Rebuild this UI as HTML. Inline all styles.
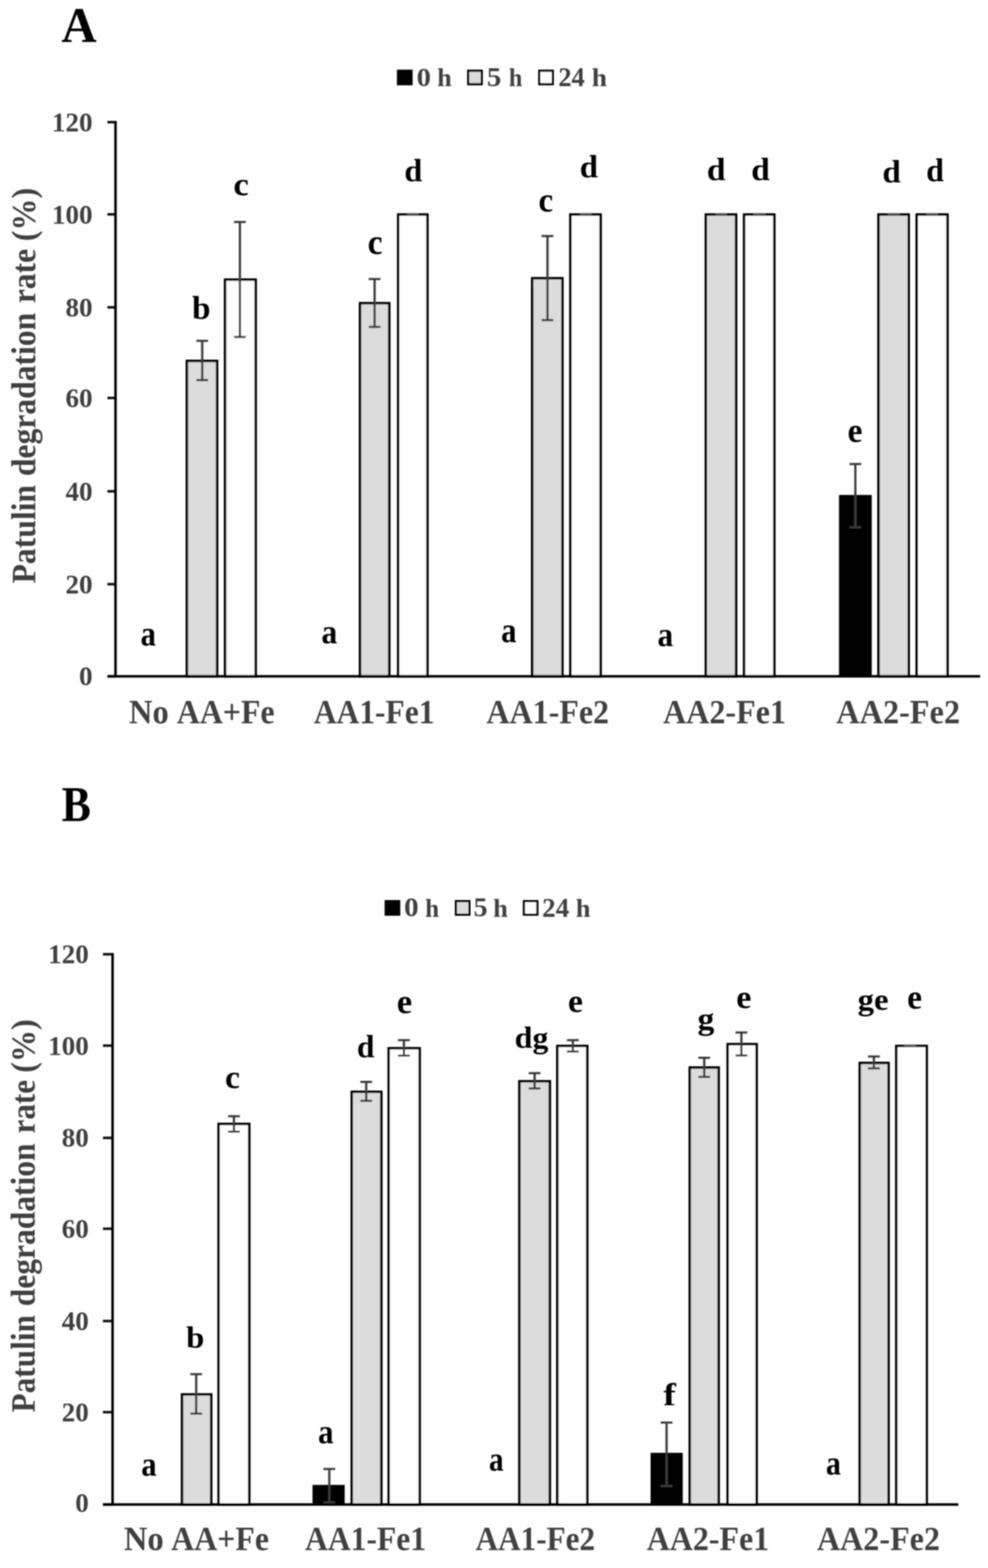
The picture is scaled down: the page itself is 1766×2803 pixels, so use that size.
<!DOCTYPE html>
<html><head><meta charset="utf-8"><title>Patulin degradation rate</title>
<style>
html,body{margin:0;padding:0;background:#fff;}
svg{display:block;}
text{font-family:'Liberation Serif', 'Times New Roman', serif;font-weight:bold;}
</style></head>
<body>
<svg width="1766" height="2803" viewBox="0 0 1766 2803">
<defs><filter id="soft" x="0" y="0" width="1766" height="2803" filterUnits="userSpaceOnUse"><feGaussianBlur stdDeviation="0.8"/></filter></defs>
<rect width="1766" height="2803" fill="#fff"/>
<g filter="url(#soft)">
<text transform="translate(109.75,74.10) scale(1.0001,1.0076)" font-size="87.5" fill="#000">A</text>
<rect x="709.5" y="124.5" width="28" height="28" fill="#000"/>
<rect x="837.0" y="126.5" width="24" height="24" fill="#dcdcdc" stroke="#000" stroke-width="4"/>
<rect x="964.0" y="126.5" width="24" height="24" fill="#fff" stroke="#000" stroke-width="4"/>
<text transform="translate(744.76,153.84) scale(1.0729,0.9983)" font-size="47.5" fill="#404040">0</text>
<text transform="translate(781.54,154.30) scale(0.9790,0.9709)" font-size="47.5" fill="#404040">h</text>
<text transform="translate(870.13,153.83) scale(1.0891,1.0137)" font-size="47.5" fill="#404040">5</text>
<text transform="translate(909.42,154.30) scale(0.9137,0.9709)" font-size="47.5" fill="#404040">h</text>
<text transform="translate(997.91,154.30) scale(0.9972,1.0175)" font-size="47.5" fill="#404040">24</text>
<text transform="translate(1057.78,154.30) scale(1.0320,0.9709)" font-size="47.5" fill="#404040">h</text>
<line x1="192" y1="1209.0" x2="206.5" y2="1209.0" stroke="#111" stroke-width="4.5"/>
<text x="165.5" y="1225.3" font-size="48.5" fill="#404040" text-anchor="end" >0</text>
<line x1="192" y1="1044.3" x2="206.5" y2="1044.3" stroke="#111" stroke-width="4.5"/>
<text x="165.5" y="1060.6" font-size="48.5" fill="#404040" text-anchor="end" >20</text>
<line x1="192" y1="878.3" x2="206.5" y2="878.3" stroke="#111" stroke-width="4.5"/>
<text x="165.5" y="894.6" font-size="48.5" fill="#404040" text-anchor="end" >40</text>
<line x1="192" y1="711.4" x2="206.5" y2="711.4" stroke="#111" stroke-width="4.5"/>
<text x="165.5" y="727.7" font-size="48.5" fill="#404040" text-anchor="end" >60</text>
<line x1="192" y1="549.4" x2="206.5" y2="549.4" stroke="#111" stroke-width="4.5"/>
<text x="165.5" y="565.7" font-size="48.5" fill="#404040" text-anchor="end" >80</text>
<line x1="192" y1="383.2" x2="206.5" y2="383.2" stroke="#111" stroke-width="4.5"/>
<text x="165.5" y="399.5" font-size="48.5" fill="#404040" text-anchor="end" >100</text>
<line x1="192" y1="218.4" x2="206.5" y2="218.4" stroke="#111" stroke-width="4.5"/>
<text x="165.5" y="234.7" font-size="48.5" fill="#404040" text-anchor="end" >120</text>
<text transform="translate(63.30,1042.97) rotate(-90) scale(0.9758,1.0500)" font-size="58" fill="#404040">Patulin</text>
<text transform="translate(63.30,851.09) rotate(-90) scale(0.9742,1.0500)" font-size="58" fill="#404040">degradation</text>
<text transform="translate(63.30,542.12) rotate(-90) scale(0.9758,1.0500)" font-size="58" fill="#404040">rate</text>
<text transform="translate(63.30,431.32) rotate(-90) scale(0.9898,1.0500)" font-size="58" fill="#404040">(%)</text>
<rect x="334.05" y="645.18" width="54.00" height="563.82" fill="#dcdcdc" stroke="#000" stroke-width="4.5"/>
<rect x="402.30" y="499.90" width="54.70" height="709.10" fill="#fff" stroke="#000" stroke-width="4.5"/>
<line x1="361.5" y1="609.3" x2="361.5" y2="679.5" stroke="#3a3a3a" stroke-width="4"/>
<line x1="351.0" y1="609.3" x2="372.0" y2="609.3" stroke="#3a3a3a" stroke-width="3.8"/>
<line x1="351.0" y1="679.5" x2="372.0" y2="679.5" stroke="#3a3a3a" stroke-width="3.8"/>
<line x1="428.8" y1="396.8" x2="428.8" y2="602.4" stroke="#3a3a3a" stroke-width="4"/>
<line x1="418.3" y1="396.8" x2="439.3" y2="396.8" stroke="#3a3a3a" stroke-width="3.8"/>
<line x1="418.3" y1="602.4" x2="439.3" y2="602.4" stroke="#3a3a3a" stroke-width="3.8"/>
<text transform="translate(251.13,1154.48) scale(0.9651,1.1134)" font-size="57" fill="#000">a</text>
<text transform="translate(343.15,570.33) scale(1.0430,1.0198)" font-size="57" fill="#000">b</text>
<text transform="translate(417.19,348.84) scale(1.0852,1.0516)" font-size="57" fill="#000">c</text>
<text transform="translate(230.49,1293.30) scale(1.0210,1.0718)" font-size="57" fill="#404040">No</text>
<text transform="translate(316.04,1293.34) scale(0.9989,1.0640)" font-size="57" fill="#404040">AA+Fe</text>
<rect x="643.50" y="542.00" width="52.30" height="667.00" fill="#dcdcdc" stroke="#000" stroke-width="4.5"/>
<rect x="711.80" y="383.50" width="52.20" height="825.50" fill="#fff" stroke="#000" stroke-width="4.5"/>
<line x1="669.6" y1="498.8" x2="669.6" y2="584.4" stroke="#3a3a3a" stroke-width="4"/>
<line x1="659.1" y1="498.8" x2="680.1" y2="498.8" stroke="#3a3a3a" stroke-width="3.8"/>
<line x1="659.1" y1="584.4" x2="680.1" y2="584.4" stroke="#3a3a3a" stroke-width="3.8"/>
<line x1="727.2" y1="383.5" x2="748.2" y2="383.5" stroke="#555" stroke-width="4.5"/>
<text transform="translate(574.57,1149.80) scale(0.9961,1.0841)" font-size="57" fill="#000">a</text>
<text transform="translate(657.16,453.72) scale(1.0487,1.0991)" font-size="57" fill="#000">c</text>
<text transform="translate(722.76,324.04) scale(1.0122,1.0023)" font-size="57" fill="#000">d</text>
<text transform="translate(560.95,1293.34) scale(0.9873,1.0640)" font-size="57" fill="#404040">AA1-Fe1</text>
<rect x="951.25" y="497.42" width="54.00" height="711.58" fill="#dcdcdc" stroke="#000" stroke-width="4.5"/>
<rect x="1019.55" y="383.50" width="54.00" height="825.50" fill="#fff" stroke="#000" stroke-width="4.5"/>
<line x1="978.6" y1="422.0" x2="978.6" y2="572.3" stroke="#3a3a3a" stroke-width="4"/>
<line x1="968.1" y1="422.0" x2="989.1" y2="422.0" stroke="#3a3a3a" stroke-width="3.8"/>
<line x1="968.1" y1="572.3" x2="989.1" y2="572.3" stroke="#3a3a3a" stroke-width="3.8"/>
<line x1="1036.5" y1="383.5" x2="1057.5" y2="383.5" stroke="#555" stroke-width="4.5"/>
<text transform="translate(895.83,1147.69) scale(0.9651,1.1024)" font-size="57" fill="#000">a</text>
<text transform="translate(962.38,377.83) scale(1.0350,1.0808)" font-size="57" fill="#000">c</text>
<text transform="translate(1036.22,316.54) scale(1.0295,0.9999)" font-size="57" fill="#000">d</text>
<text transform="translate(869.44,1293.34) scale(1.0036,1.0609)" font-size="57" fill="#404040">AA1-Fe2</text>
<rect x="1261.75" y="383.50" width="54.00" height="825.50" fill="#dcdcdc" stroke="#000" stroke-width="4.5"/>
<rect x="1330.05" y="383.50" width="54.00" height="825.50" fill="#fff" stroke="#000" stroke-width="4.5"/>
<line x1="1278.5" y1="383.5" x2="1299.5" y2="383.5" stroke="#555" stroke-width="4.5"/>
<line x1="1347.0" y1="383.5" x2="1368.0" y2="383.5" stroke="#555" stroke-width="4.5"/>
<text transform="translate(1175.29,1154.50) scale(0.9845,1.0841)" font-size="57" fill="#000">a</text>
<text transform="translate(1263.57,321.84) scale(1.0539,1.0023)" font-size="57" fill="#000">d</text>
<text transform="translate(1342.67,321.84) scale(1.0504,1.0023)" font-size="57" fill="#000">d</text>
<text transform="translate(1185.14,1293.34) scale(1.0060,1.0609)" font-size="57" fill="#404040">AA2-Fe1</text>
<rect x="1499.70" y="884.80" width="58.50" height="324.20" fill="#000"/>
<rect x="1570.25" y="383.50" width="54.00" height="825.50" fill="#dcdcdc" stroke="#000" stroke-width="4.5"/>
<rect x="1638.60" y="383.50" width="55.00" height="825.50" fill="#fff" stroke="#000" stroke-width="4.5"/>
<line x1="1528.9" y1="829.5" x2="1528.9" y2="942.7" stroke="#3a3a3a" stroke-width="4"/>
<line x1="1518.4" y1="829.5" x2="1539.4" y2="829.5" stroke="#3a3a3a" stroke-width="3.8"/>
<line x1="1518.4" y1="942.7" x2="1539.4" y2="942.7" stroke="#3a3a3a" stroke-width="3.8"/>
<line x1="1587.0" y1="383.5" x2="1608.0" y2="383.5" stroke="#555" stroke-width="4.5"/>
<line x1="1655.5" y1="383.5" x2="1676.5" y2="383.5" stroke="#555" stroke-width="4.5"/>
<text transform="translate(1515.05,789.92) scale(1.0514,1.0903)" font-size="57" fill="#000">e</text>
<text transform="translate(1577.21,325.93) scale(1.0365,1.0173)" font-size="57" fill="#000">d</text>
<text transform="translate(1655.59,324.43) scale(1.0017,1.0273)" font-size="57" fill="#000">d</text>
<text transform="translate(1494.74,1293.34) scale(1.0134,1.0609)" font-size="57" fill="#404040">AA2-Fe2</text>
<line x1="206.5" y1="216.2" x2="206.5" y2="1209.0" stroke="#000" stroke-width="4.5"/>
<line x1="192" y1="1209.0" x2="1752" y2="1209.0" stroke="#000" stroke-width="4.5"/>
<text transform="translate(110.30,1466.84) scale(0.8940,1.0113)" font-size="87.5" fill="#000">B</text>
<rect x="687.5" y="1609.0" width="28" height="28" fill="#000"/>
<rect x="815.0" y="1611.0" width="24" height="24" fill="#dcdcdc" stroke="#000" stroke-width="4"/>
<rect x="936.5" y="1611.0" width="24" height="24" fill="#fff" stroke="#000" stroke-width="4"/>
<text transform="translate(722.21,1638.03) scale(1.0978,1.0139)" font-size="47.5" fill="#404040">0</text>
<text transform="translate(760.09,1638.50) scale(0.9423,0.9861)" font-size="47.5" fill="#404040">h</text>
<text transform="translate(846.50,1638.02) scale(1.0493,1.0296)" font-size="47.5" fill="#404040">5</text>
<text transform="translate(881.52,1638.50) scale(0.9953,0.9861)" font-size="47.5" fill="#404040">h</text>
<text transform="translate(969.07,1638.50) scale(1.0174,1.0334)" font-size="47.5" fill="#404040">24</text>
<text transform="translate(1029.23,1638.50) scale(0.9912,0.9861)" font-size="47.5" fill="#404040">h</text>
<line x1="184.0" y1="2689.5" x2="201.2" y2="2689.5" stroke="#111" stroke-width="4.5"/>
<text x="158.8" y="2703.3" font-size="48.5" fill="#404040" text-anchor="end" >0</text>
<line x1="184.0" y1="2524.4" x2="201.2" y2="2524.4" stroke="#111" stroke-width="4.5"/>
<text x="158.8" y="2540.7" font-size="48.5" fill="#404040" text-anchor="end" >20</text>
<line x1="184.0" y1="2361.5" x2="201.2" y2="2361.5" stroke="#111" stroke-width="4.5"/>
<text x="158.8" y="2377.8" font-size="48.5" fill="#404040" text-anchor="end" >40</text>
<line x1="184.0" y1="2196.5" x2="201.2" y2="2196.5" stroke="#111" stroke-width="4.5"/>
<text x="158.8" y="2212.8" font-size="48.5" fill="#404040" text-anchor="end" >60</text>
<line x1="184.0" y1="2034.1" x2="201.2" y2="2034.1" stroke="#111" stroke-width="4.5"/>
<text x="158.8" y="2050.4" font-size="48.5" fill="#404040" text-anchor="end" >80</text>
<line x1="184.0" y1="1869.2" x2="201.2" y2="1869.2" stroke="#111" stroke-width="4.5"/>
<text x="158.8" y="1885.5" font-size="48.5" fill="#404040" text-anchor="end" >100</text>
<line x1="184.0" y1="1705.9" x2="201.2" y2="1705.9" stroke="#111" stroke-width="4.5"/>
<text x="158.8" y="1722.2" font-size="48.5" fill="#404040" text-anchor="end" >120</text>
<text transform="translate(62.40,2525.06) rotate(-90) scale(0.9652,1.0500)" font-size="58" fill="#404040">Patulin</text>
<text transform="translate(62.40,2334.98) rotate(-90) scale(0.9711,1.0500)" font-size="58" fill="#404040">degradation</text>
<text transform="translate(62.40,2026.30) rotate(-90) scale(0.9603,1.0500)" font-size="58" fill="#404040">rate</text>
<text transform="translate(62.40,1917.83) rotate(-90) scale(0.9920,1.0500)" font-size="58" fill="#404040">(%)</text>
<rect x="325.40" y="2492.78" width="52.10" height="196.72" fill="#dcdcdc" stroke="#000" stroke-width="4.5"/>
<rect x="390.80" y="2009.18" width="54.70" height="680.32" fill="#fff" stroke="#000" stroke-width="4.5"/>
<line x1="350.7" y1="2456.5" x2="350.7" y2="2527.0" stroke="#3a3a3a" stroke-width="4"/>
<line x1="340.2" y1="2456.5" x2="361.2" y2="2456.5" stroke="#3a3a3a" stroke-width="3.8"/>
<line x1="340.2" y1="2527.0" x2="361.2" y2="2527.0" stroke="#3a3a3a" stroke-width="3.8"/>
<line x1="418.2" y1="1995.4" x2="418.2" y2="2023.0" stroke="#3a3a3a" stroke-width="4"/>
<line x1="407.7" y1="1995.4" x2="428.7" y2="1995.4" stroke="#3a3a3a" stroke-width="3.8"/>
<line x1="407.7" y1="2023.0" x2="428.7" y2="2023.0" stroke="#3a3a3a" stroke-width="3.8"/>
<text transform="translate(252.43,2637.80) scale(0.9651,1.0768)" font-size="57" fill="#000">a</text>
<text transform="translate(332.86,2408.57) scale(1.0256,0.9500)" font-size="57" fill="#000">b</text>
<text transform="translate(402.25,1945.46) scale(1.0533,1.0297)" font-size="57" fill="#000">c</text>
<text transform="translate(221.49,2771.40) scale(1.0210,1.0718)" font-size="57" fill="#404040">No</text>
<text transform="translate(306.04,2771.44) scale(0.9983,1.0640)" font-size="57" fill="#404040">AA+Fe</text>
<rect x="558.60" y="2654.46" width="57.50" height="35.04" fill="#000"/>
<rect x="628.80" y="1951.80" width="52.80" height="737.70" fill="#dcdcdc" stroke="#000" stroke-width="4.5"/>
<rect x="694.80" y="1873.93" width="55.30" height="815.57" fill="#fff" stroke="#000" stroke-width="4.5"/>
<line x1="588.6" y1="2626.0" x2="588.6" y2="2686.0" stroke="#3a3a3a" stroke-width="4"/>
<line x1="578.1" y1="2626.0" x2="599.1" y2="2626.0" stroke="#3a3a3a" stroke-width="3.8"/>
<line x1="578.1" y1="2686.0" x2="599.1" y2="2686.0" stroke="#3a3a3a" stroke-width="3.8"/>
<line x1="654.6" y1="1934.1" x2="654.6" y2="1967.8" stroke="#3a3a3a" stroke-width="4"/>
<line x1="644.1" y1="1934.1" x2="665.1" y2="1934.1" stroke="#3a3a3a" stroke-width="3.8"/>
<line x1="644.1" y1="1967.8" x2="665.1" y2="1967.8" stroke="#3a3a3a" stroke-width="3.8"/>
<line x1="722.0" y1="1859.4" x2="722.0" y2="1887.1" stroke="#3a3a3a" stroke-width="4"/>
<line x1="711.5" y1="1859.4" x2="732.5" y2="1859.4" stroke="#3a3a3a" stroke-width="3.8"/>
<line x1="711.5" y1="1887.1" x2="732.5" y2="1887.1" stroke="#3a3a3a" stroke-width="3.8"/>
<text transform="translate(568.61,2580.10) scale(0.9729,1.0768)" font-size="57" fill="#000">a</text>
<text transform="translate(637.92,1889.54) scale(0.9878,1.0023)" font-size="57" fill="#000">d</text>
<text transform="translate(709.29,1810.53) scale(1.0834,1.0794)" font-size="57" fill="#000">e</text>
<text transform="translate(545.25,2771.44) scale(0.9911,1.0640)" font-size="57" fill="#404040">AA1-Fe1</text>
<rect x="928.40" y="1932.95" width="54.40" height="756.55" fill="#dcdcdc" stroke="#000" stroke-width="4.5"/>
<rect x="996.20" y="1869.83" width="53.50" height="819.67" fill="#fff" stroke="#000" stroke-width="4.5"/>
<line x1="955.6" y1="1918.4" x2="955.6" y2="1945.7" stroke="#3a3a3a" stroke-width="4"/>
<line x1="945.1" y1="1918.4" x2="966.1" y2="1918.4" stroke="#3a3a3a" stroke-width="3.8"/>
<line x1="945.1" y1="1945.7" x2="966.1" y2="1945.7" stroke="#3a3a3a" stroke-width="3.8"/>
<line x1="1023.9" y1="1859.4" x2="1023.9" y2="1879.7" stroke="#3a3a3a" stroke-width="4"/>
<line x1="1013.4" y1="1859.4" x2="1034.4" y2="1859.4" stroke="#3a3a3a" stroke-width="3.8"/>
<line x1="1013.4" y1="1879.7" x2="1034.4" y2="1879.7" stroke="#3a3a3a" stroke-width="3.8"/>
<text transform="translate(874.11,2628.70) scale(0.9186,1.0841)" font-size="57" fill="#000">a</text>
<text transform="translate(920.09,1872.62) scale(0.9994,0.9764)" font-size="57" fill="#000">dg</text>
<text transform="translate(1015.24,1809.16) scale(1.0560,1.0208)" font-size="57" fill="#000">e</text>
<text transform="translate(850.06,2771.44) scale(0.9786,1.0609)" font-size="57" fill="#404040">AA1-Fe2</text>
<rect x="1162.90" y="2597.09" width="57.50" height="92.41" fill="#000"/>
<rect x="1232.90" y="1908.36" width="51.70" height="781.14" fill="#dcdcdc" stroke="#000" stroke-width="4.5"/>
<rect x="1300.70" y="1866.55" width="51.70" height="822.95" fill="#fff" stroke="#000" stroke-width="4.5"/>
<line x1="1191.5" y1="2543.0" x2="1191.5" y2="2656.3" stroke="#3a3a3a" stroke-width="4"/>
<line x1="1181.0" y1="2543.0" x2="1202.0" y2="2543.0" stroke="#3a3a3a" stroke-width="3.8"/>
<line x1="1181.0" y1="2656.3" x2="1202.0" y2="2656.3" stroke="#3a3a3a" stroke-width="3.8"/>
<line x1="1258.8" y1="1890.9" x2="1258.8" y2="1925.1" stroke="#3a3a3a" stroke-width="4"/>
<line x1="1248.3" y1="1890.9" x2="1269.3" y2="1890.9" stroke="#3a3a3a" stroke-width="3.8"/>
<line x1="1248.3" y1="1925.1" x2="1269.3" y2="1925.1" stroke="#3a3a3a" stroke-width="3.8"/>
<line x1="1325.2" y1="1845.7" x2="1325.2" y2="1886.8" stroke="#3a3a3a" stroke-width="4"/>
<line x1="1314.7" y1="1845.7" x2="1335.7" y2="1845.7" stroke="#3a3a3a" stroke-width="3.8"/>
<line x1="1314.7" y1="1886.8" x2="1335.7" y2="1886.8" stroke="#3a3a3a" stroke-width="3.8"/>
<text transform="translate(1185.50,2512.00) scale(1.1872,1.0066)" font-size="57" fill="#000">f</text>
<text transform="translate(1246.81,1839.72) scale(1.0552,0.9921)" font-size="57" fill="#000">g</text>
<text transform="translate(1316.02,1802.44) scale(1.0697,1.0537)" font-size="57" fill="#000">e</text>
<text transform="translate(1155.94,2771.44) scale(1.0027,1.0609)" font-size="57" fill="#404040">AA2-Fe1</text>
<rect x="1536.80" y="1900.16" width="51.40" height="789.34" fill="#dcdcdc" stroke="#000" stroke-width="4.5"/>
<rect x="1602.10" y="1869.83" width="54.40" height="819.67" fill="#fff" stroke="#000" stroke-width="4.5"/>
<line x1="1562.0" y1="1888.6" x2="1562.0" y2="1909.8" stroke="#3a3a3a" stroke-width="4"/>
<line x1="1551.5" y1="1888.6" x2="1572.5" y2="1888.6" stroke="#3a3a3a" stroke-width="3.8"/>
<line x1="1551.5" y1="1909.8" x2="1572.5" y2="1909.8" stroke="#3a3a3a" stroke-width="3.8"/>
<line x1="1616.3" y1="1869.8" x2="1637.3" y2="1869.8" stroke="#555" stroke-width="4.5"/>
<text transform="translate(1476.37,2635.51) scale(0.9418,1.0658)" font-size="57" fill="#000">a</text>
<text transform="translate(1533.06,1804.91) scale(1.0252,0.9610)" font-size="57" fill="#000">ge</text>
<text transform="translate(1621.55,1803.23) scale(1.0514,1.0830)" font-size="57" fill="#000">e</text>
<text transform="translate(1460.14,2771.44) scale(1.0078,1.0609)" font-size="57" fill="#404040">AA2-Fe2</text>
<line x1="201.2" y1="1703.7" x2="201.2" y2="2689.5" stroke="#000" stroke-width="4.5"/>
<line x1="184.0" y1="2689.5" x2="1713" y2="2689.5" stroke="#000" stroke-width="4.5"/>
</g>
</svg>
</body></html>
